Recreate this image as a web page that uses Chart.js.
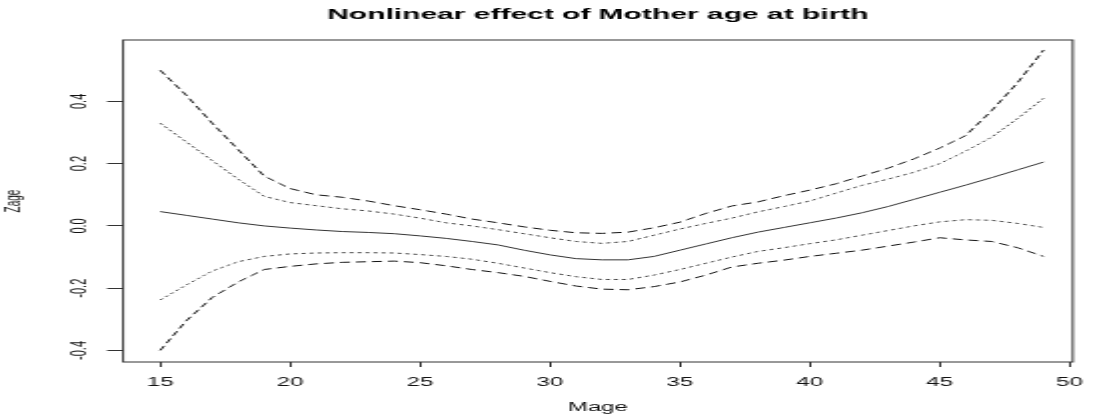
<!DOCTYPE html>
<html>
<head>
<meta charset="utf-8">
<script src="https://cdn.jsdelivr.net/npm/chart.js@4.4.1/dist/chart.umd.min.js"></script>
<style>
  html, body { margin: 0; padding: 0; background: #fff; overflow: hidden; }
  /* the original picture is stretched sideways, so draw narrow and stretch */
  #wrap { position: absolute; left: 0; top: 0; width: 550px; height: 417px;
          transform: scaleX(1.99818); transform-origin: 0 0; }
</style>
</head>
<body>
<div id="wrap"><canvas id="chart"></canvas></div>
<script>
// mother age at birth
let ages = [15, 16, 17, 18, 19, 20, 21, 22, 23, 24, 25, 26, 27, 28, 29, 30, 31, 32,
            33, 34, 35, 36, 37, 38, 39, 40, 41, 42, 43, 44, 45, 46, 47, 48, 49];

let fitted = [0.046, 0.034, 0.022, 0.010, 0.000, -0.007, -0.013, -0.018, -0.021, -0.025,
              -0.032, -0.040, -0.050, -0.061, -0.078, -0.093, -0.105, -0.109, -0.109, -0.098,
              -0.078, -0.058, -0.038, -0.020, -0.005, 0.010, 0.025, 0.042, 0.062, 0.085,
              0.108, 0.131, 0.155, 0.180, 0.205];

let upperInner = [0.330, 0.270, 0.210, 0.150, 0.095, 0.075, 0.065, 0.055, 0.048, 0.038,
                  0.025, 0.010, 0.000, -0.012, -0.025, -0.038, -0.050, -0.056, -0.050, -0.030,
                  -0.010, 0.008, 0.025, 0.045, 0.062, 0.080, 0.105, 0.130, 0.150, 0.172,
                  0.200, 0.240, 0.285, 0.345, 0.410];

let upperOuter = [0.500, 0.420, 0.330, 0.245, 0.160, 0.120, 0.100, 0.092, 0.080, 0.065,
                  0.052, 0.038, 0.022, 0.010, -0.003, -0.014, -0.022, -0.024, -0.020, -0.006,
                  0.012, 0.040, 0.064, 0.077, 0.097, 0.115, 0.135, 0.160, 0.185, 0.215,
                  0.250, 0.290, 0.370, 0.460, 0.565];

let lowerInner = [-0.238, -0.190, -0.145, -0.115, -0.098, -0.090, -0.087, -0.086, -0.086, -0.087,
                  -0.092, -0.098, -0.107, -0.120, -0.135, -0.150, -0.163, -0.172, -0.172, -0.158,
                  -0.140, -0.120, -0.100, -0.082, -0.070, -0.057, -0.045, -0.030, -0.015, 0.000,
                  0.013, 0.020, 0.018, 0.008, -0.005];

let lowerOuter = [-0.400, -0.305, -0.230, -0.180, -0.140, -0.130, -0.122, -0.117, -0.115, -0.113,
                  -0.118, -0.128, -0.140, -0.150, -0.162, -0.178, -0.193, -0.203, -0.205, -0.195,
                  -0.180, -0.158, -0.132, -0.120, -0.110, -0.098, -0.088, -0.078, -0.065, -0.052,
                  -0.038, -0.045, -0.050, -0.070, -0.098];

let xTicks = [15, 20, 25, 30, 35, 40, 45, 50];
let yTicks = [-0.4, -0.2, 0.0, 0.2, 0.4];
let yTickLabels = ["-0.4", "-0.2", "0.0", "0.2", "0.4"];

const FONT = '"Liberation Sans", Arial, Helvetica, sans-serif';

let toPoints = (vals) => ages.map((a, i) => ({ x: a, y: vals[i] }));

let lineSet = (label, vals, color, dash) => ({
  label: label,
  data: toPoints(vals),
  borderColor: color,
  borderWidth: 1,
  borderDash: dash,
  pointRadius: 0,
  tension: 0,
  fill: false,
});

// frame round the plot region
const boxPlugin = {
  id: 'box',
  afterDatasetsDraw(chart) {
    const { ctx, chartArea: a } = chart;
    ctx.save();
    ctx.strokeStyle = '#333';
    ctx.lineWidth = 1;
    ctx.strokeRect(a.left, a.top, a.right - a.left, a.bottom - a.top);
    ctx.restore();
  }
};

new Chart(document.getElementById('chart'), {
  type: 'line',
  data: {
    datasets: [
      lineSet('upper 95%', upperOuter, '#111', [5, 3]),
      lineSet('upper 80%', upperInner, '#444', [2, 2]),
      lineSet('effect', fitted, '#333', []),
      lineSet('lower 80%', lowerInner, '#444', [2, 2]),
      lineSet('lower 95%', lowerOuter, '#111', [5, 3]),
    ],
  },
  options: {
    responsive: true,
    maintainAspectRatio: false,
    animation: false,
    layout: { padding: { left: 0, right: 2.5, top: 0, bottom: 0 } },
    plugins: {
      legend: { display: false },
      tooltip: { enabled: false },
      title: {
        display: true,
        text: 'Nonlinear effect of Mother age at birth',
        fullSize: false,
        color: '#000',
        font: { family: FONT, size: 15, weight: 'bold', lineHeight: 1.2 },
        padding: { top: 6, bottom: 16 },
      },
    },
    scales: {
      x: {
        type: 'linear',
        min: 13.57,
        max: 50.12,
        afterBuildTicks: (scale) => { scale.ticks = xTicks.map(v => ({ value: v })); },
        afterFit: (scale) => { scale.height = 55; },
        grid: { drawOnChartArea: false, drawTicks: true, tickLength: 5, color: '#333' },
        border: { display: false },
        ticks: {
          color: '#111',
          padding: 8,
          maxRotation: 0,
          autoSkip: false,
          font: { family: FONT, size: 12 },
        },
        title: {
          display: true,
          text: 'Mage',
          color: '#111',
          font: { family: FONT, size: 12, lineHeight: 1.2 },
          padding: { top: 0, bottom: 1.8 },
        },
      },
      y: {
        type: 'linear',
        min: -0.437,
        max: 0.597,
        afterBuildTicks: (scale) => { scale.ticks = yTicks.map(v => ({ value: v })); },
        afterFit: (scale) => { scale.width = 61.56; },
        grid: { drawOnChartArea: false, drawTicks: true, tickLength: 8, color: '#333' },
        border: { display: false },
        ticks: {
          color: '#111',
          minRotation: 90,
          maxRotation: 90,
          crossAlign: 'center',
          padding: 4,
          autoSkip: false,
          font: { family: FONT, size: 11 },
          callback: (value) => {
            let i = yTicks.findIndex(t => Math.abs(t - value) < 1e-9);
            return i >= 0 ? yTickLabels[i] : '';
          },
        },
        title: {
          display: true,
          text: 'Zage',
          color: '#111',
          font: { family: FONT, size: 10, lineHeight: 1.2 },
          padding: { top: 1.5, bottom: 0 },
        },
      },
    },
  },
  plugins: [boxPlugin],
});
</script>
</body>
</html>
